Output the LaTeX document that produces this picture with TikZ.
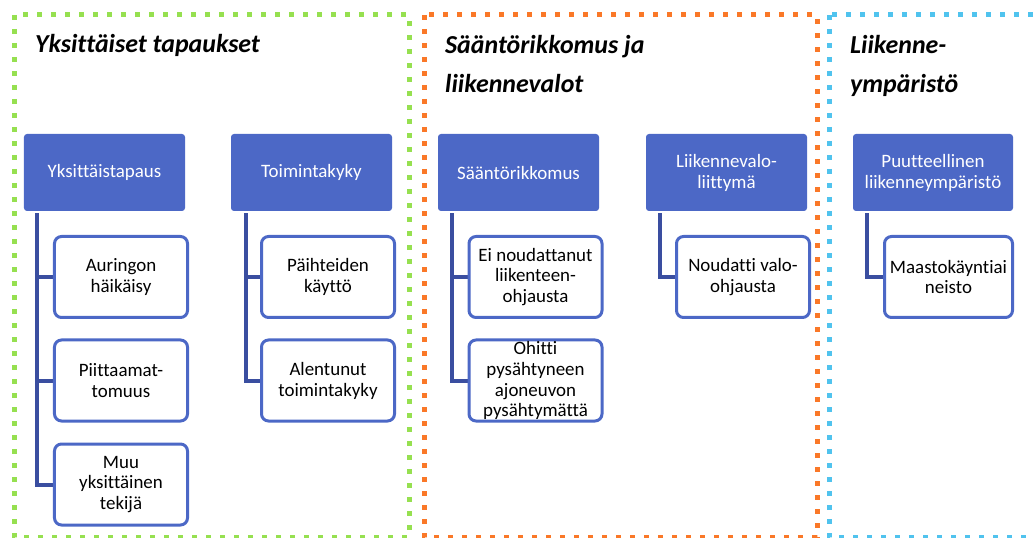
\documentclass[tikz,border=0pt]{standalone}
\usepackage{fontspec}
\setmainfont{Carlito}[Ligatures=NoCommon]
\usetikzlibrary{calc,backgrounds}
\definecolor{hdrblue}{RGB}{76,104,198}
\definecolor{lnblue}{RGB}{58,78,160}
\definecolor{fgreen}{RGB}{150,224,80}
\definecolor{forange}{RGB}{250,120,40}
\definecolor{fblue}{RGB}{80,195,238}
\tikzset{
  frame/.style={line width=5bp, dash pattern=on 5bp off 9bp},
  title/.style={anchor=base west, align=left, inner sep=0, font=\fontsize{26}{40}\selectfont\bfseries\itshape},
  hdr/.style={fill=hdrblue, rounded corners=3bp, text=white, align=center, inner sep=0,
    font=\fontsize{19}{21}\selectfont, minimum width=161bp, minimum height=77bp},
  child/.style={draw=hdrblue, line width=3bp, fill=white, rounded corners=7bp, align=center, inner sep=0,
    font=\fontsize{19}{21}\selectfont, minimum width=133bp, minimum height=81bp},
  conn/.style={draw=lnblue, line width=4bp}
}
\begin{document}
\begin{tikzpicture}[x=1bp,y=-1bp]
\useasboundingbox (0,0) rectangle (1035,538);
\clip (0,0) rectangle (1035,538);
% frames
\draw[frame, fgreen] (14,15) rectangle (409,537);
\draw[frame, forange] (424,15) rectangle (817,537);
\draw[frame, fblue] (829,15) rectangle (1060,537);
% titles
\node[title] (t1) at (35,53) {Yksittäiset tapaukset};
\node[title] (t2) at (445,93) {Sääntörikkomus ja\\liikennevalot};
\node[title] (t3) at (850,93) {Liikenne-\\ympäristö};
% headers
\node[hdr] (h1) at (104.5,172.5) {Yksittäistapaus};
\node[hdr] (h2) at (311.5,172.5) {Toimintakyky};
\node[hdr] (h3) at (518.5,172.5) {Sääntörikkomus};
\node[hdr] (h4) at (726.5,172.5) {Liikennevalo-\\liittymä};
\node[hdr, minimum width=160bp] (h5) at (933,172.5) {Puutteellinen\\liikenneympäristö};
% children
\node[child] (c1) at (121,277) {Auringon\\häikäisy};
\node[child] (c2) at (121,380.5) {Piittaamat-\\tomuus};
\node[child] (c3) at (121,484.5) {Muu\\yksittäinen\\tekijä};
\node[child] (c4) at (328,277) {Päihteiden\\käyttö};
\node[child] (c5) at (328,380.5) {Alentunut\\toimintakyky};
\node[child] (c6) at (535.5,277) {Ei noudattanut\\liikenteen-\\ohjausta};
\node[child] (c7) at (535.5,380.5) {Ohitti\\pysähtyneen\\ajoneuvon\\pysähtymättä};
\node[child] (c8) at (743,277) {Noudatti valo-\\ohjausta};
\node[child, minimum width=128bp] (c9) at (948.5,277) {Maastokäyntiai\\neisto};
% connectors
\begin{scope}[on background layer]
\draw[conn] ($(h1.south west)+(13,2)$) |- (c1.west);
\draw[conn] ($(h1.south west)+(13,2)$) |- (c2.west);
\draw[conn] ($(h1.south west)+(13,2)$) |- (c3.west);
\draw[conn] ($(h2.south west)+(15,2)$) |- (c4.west);
\draw[conn] ($(h2.south west)+(15,2)$) |- (c5.west);
\draw[conn] ($(h3.south west)+(14,2)$) |- (c6.west);
\draw[conn] ($(h3.south west)+(14,2)$) |- (c7.west);
\draw[conn] ($(h4.south west)+(14,2)$) |- (c8.west);
\draw[conn] ($(h5.south west)+(14,2)$) |- (c9.west);
\end{scope}
\end{tikzpicture}
\end{document}
